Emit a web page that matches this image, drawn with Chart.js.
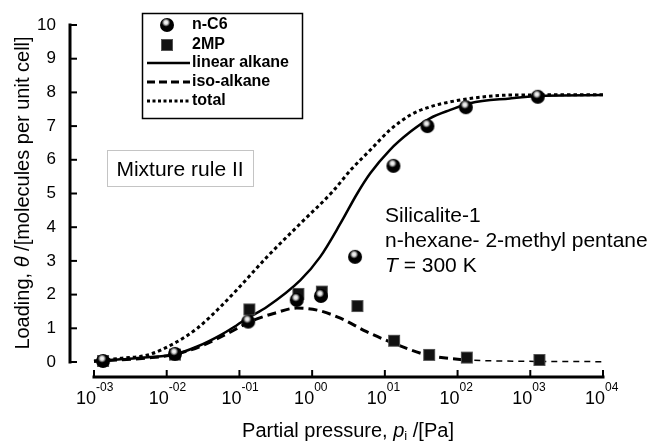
<!DOCTYPE html>
<html>
<head>
<meta charset="utf-8">
<script src="https://cdn.jsdelivr.net/npm/chart.js@4.4.0/dist/chart.umd.min.js"></script>
<style>
    html, body { margin: 0; padding: 0; background: #fff; }
    #box { width: 652px; height: 443px; }
</style>
</head>
<body>
<div id="box"><canvas id="chartCanvas"></canvas></div>
<script>
// Dados (pressão em Pa, carga em moléculas por célula)
const pressaoNC6 = [0.00133, 0.013, 0.132, 0.614, 1.32, 3.89, 13.1, 38.5, 130, 1268];
const cargaNC6 = [0.03, 0.24, 1.20, 1.84, 1.96, 3.12, 5.82, 7.00, 7.56, 7.87];

const pressao2MP = [0.00133, 0.013, 0.137, 0.646, 1.36, 4.19, 13.4, 40.7, 134, 1334];
const carga2MP = [0.03, 0.22, 1.56, 2.02, 2.09, 1.66, 0.63, 0.21, 0.13, 0.06];

const pressaoLinear = [0.001, 0.00234, 0.0055, 0.0126, 0.0263, 0.055, 0.093, 0.129, 0.24, 0.69, 1.29, 2.45, 4.17, 6.3, 11.7, 22.4, 41.7, 79.4, 148, 525, 1585, 10000];
const cargaLinear = [0.02, 0.08, 0.14, 0.22, 0.46, 0.80, 1.10, 1.30, 1.64, 2.43, 3.12, 4.11, 5.00, 5.60, 6.29, 6.83, 7.23, 7.48, 7.68, 7.82, 7.90, 7.92];

const pressaoIso = [0.001, 0.0055, 0.0126, 0.0295, 0.085, 0.141, 0.295, 0.617, 1.17, 2.45, 5.6, 11.7, 38, 120, 400, 10000];
const cargaIso = [0.02, 0.12, 0.22, 0.47, 0.95, 1.20, 1.44, 1.60, 1.54, 1.30, 0.90, 0.60, 0.21, 0.07, 0.03, 0.01];

const pressaoTotal = [0.001, 0.00234, 0.0055, 0.0126, 0.0263, 0.055, 0.093, 0.24, 0.69, 1.9, 3.4, 6.3, 11.7, 22.4, 41.7, 79.4, 148, 525, 10000];
const cargaTotal = [0.03, 0.11, 0.21, 0.55, 1.00, 1.64, 2.15, 3.12, 4.11, 5.05, 5.70, 6.29, 6.88, 7.33, 7.57, 7.72, 7.82, 7.92, 7.93];

const expoentesX = [-3, -2, -1, 0, 1, 2, 3, 4];
const rotulosExpoente = ['-03', '-02', '-01', '00', '01', '02', '03', '04'];
const ticksY = [0, 1, 2, 3, 4, 5, 6, 7, 8, 9, 10];

const fonte = '"Liberation Sans", Arial, sans-serif';

function juntar(xs, ys) {
    return xs.map((x, i) => ({ x: x, y: ys[i] }));
}

// Marcador esférico (n-C6)
function criarEsfera(r) {
    const c = document.createElement('canvas');
    c.width = c.height = 2 * r + 2;
    const g = c.getContext('2d');
    const cx = r + 1, cy = r + 1;
    g.fillStyle = '#000';
    g.beginPath(); g.arc(cx, cy, r, 0, Math.PI * 2); g.fill();
    const grad = g.createRadialGradient(cx - 1, cy - 2.5, 0, cx - 1, cy - 2.5, r * 0.6);
    grad.addColorStop(0, '#fff');
    grad.addColorStop(0.45, 'rgba(255,255,255,0.85)');
    grad.addColorStop(1, 'rgba(255,255,255,0)');
    g.fillStyle = grad;
    g.beginPath(); g.arc(cx, cy, r, 0, Math.PI * 2); g.fill();
    return c;
}

// Marcador quadrado (2MP)
function criarQuadrado(lado) {
    const c = document.createElement('canvas');
    c.width = c.height = lado + 2;
    const g = c.getContext('2d');
    g.fillStyle = '#111';
    g.fillRect(1, 1, lado, lado);
    g.strokeStyle = '#999';
    g.lineWidth = 1;
    g.setLineDash([1, 1]);
    g.strokeRect(1.5, 1.5, lado - 1, lado - 1);
    return c;
}

const esfera = criarEsfera(7);
const quadrado = criarQuadrado(12);

function desenharLinhaLegenda(ctx, y, dash, largura) {
    ctx.save();
    ctx.strokeStyle = '#000';
    ctx.lineWidth = largura;
    ctx.setLineDash(dash);
    ctx.beginPath();
    ctx.moveTo(147, y);
    ctx.lineTo(190, y);
    ctx.stroke();
    ctx.restore();
}

const pluginEixos = {
    id: 'eixos',
    afterDraw(chart) {
        const ctx = chart.ctx;
        const x = chart.scales.x;
        const y = chart.scales.y;
        const area = chart.chartArea;

        ctx.save();
        ctx.fillStyle = '#000';
        ctx.strokeStyle = '#000';

        // eixo Y
        const y0 = y.getPixelForValue(0);
        const y10 = y.getPixelForValue(10);
        ctx.lineWidth = 3;
        ctx.beginPath();
        ctx.moveTo(area.left, y0 + 1.5);
        ctx.lineTo(area.left, y10 - 1.5);
        ctx.stroke();
        ctx.lineWidth = 2;
        ctx.font = '17px ' + fonte;
        ctx.textAlign = 'right';
        ctx.textBaseline = 'middle';
        ticksY.forEach(v => {
            const py = y.getPixelForValue(v);
            ctx.beginPath();
            ctx.moveTo(area.left, py);
            ctx.lineTo(area.left + 7, py);
            ctx.stroke();
            ctx.fillText(String(v), 56, py);
        });

        // eixo X
        const xa = x.getPixelForValue(1e-3);
        const xb = x.getPixelForValue(1e4);
        ctx.lineWidth = 3;
        ctx.beginPath();
        ctx.moveTo(xa - 1.5, area.bottom);
        ctx.lineTo(xb + 1.5, area.bottom);
        ctx.stroke();
        ctx.lineWidth = 2;
        ctx.textBaseline = 'alphabetic';
        expoentesX.forEach((e, i) => {
            const px = x.getPixelForValue(Math.pow(10, e));
            ctx.beginPath();
            ctx.moveTo(px, area.bottom);
            ctx.lineTo(px, area.bottom - 7);
            ctx.stroke();
            ctx.font = '18px ' + fonte;
            ctx.textAlign = 'right';
            ctx.fillText('10', px + 2, 404);
            ctx.font = '12px ' + fonte;
            ctx.textAlign = 'left';
            ctx.fillText(rotulosExpoente[i], px + 2, 391);
        });

        // título do eixo X
        const partes = [
            { t: 'Partial pressure, ', f: '20px ' + fonte, dy: 0 },
            { t: 'p', f: 'italic 20px ' + fonte, dy: 0 },
            { t: 'i', f: '13px ' + fonte, dy: 3 },
            { t: ' /[Pa]', f: '20px ' + fonte, dy: 0 }
        ];
        let total = 0;
        partes.forEach(p => { ctx.font = p.f; total += ctx.measureText(p.t).width; });
        let cx = 348 - total / 2;
        ctx.textAlign = 'left';
        partes.forEach(p => {
            ctx.font = p.f;
            ctx.fillText(p.t, cx, 437 + p.dy);
            cx += ctx.measureText(p.t).width;
        });

        // título do eixo Y
        ctx.save();
        ctx.translate(29, 193);
        ctx.rotate(-Math.PI / 2);
        const partesY = [
            { t: 'Loading, ', f: '20px ' + fonte },
            { t: 'θ', f: 'italic 20px ' + fonte },
            { t: ' /[molecules per unit cell]', f: '20px ' + fonte }
        ];
        total = 0;
        partesY.forEach(p => { ctx.font = p.f; total += ctx.measureText(p.t).width; });
        cx = -total / 2;
        partesY.forEach(p => {
            ctx.font = p.f;
            ctx.fillText(p.t, cx, 0);
            cx += ctx.measureText(p.t).width;
        });
        ctx.restore();

        // legenda
        ctx.lineWidth = 1.5;
        ctx.strokeRect(142.5, 13.5, 160, 105);
        ctx.drawImage(esfera, 167 - esfera.width / 2, 25 - esfera.height / 2);
        ctx.drawImage(quadrado, 167 - quadrado.width / 2, 45 - quadrado.height / 2);
        desenharLinhaLegenda(ctx, 63, [], 2.5);
        desenharLinhaLegenda(ctx, 82, [8, 4], 3);
        desenharLinhaLegenda(ctx, 101, [3, 2.5], 3);
        ctx.font = 'bold 16px ' + fonte;
        ctx.textBaseline = 'middle';
        ctx.fillText('n-C6', 192, 25);
        ctx.fillText('2MP', 192, 45);
        ctx.fillText('linear alkane', 192, 63);
        ctx.fillText('iso-alkane', 192, 82);
        ctx.fillText('total', 192, 101);

        // caixa "Mixture rule II"
        ctx.save();
        ctx.strokeStyle = '#888';
        ctx.lineWidth = 1;
        ctx.setLineDash([1, 1]);
        ctx.strokeRect(107.5, 150.5, 146, 36);
        ctx.restore();
        ctx.font = '21px ' + fonte;
        ctx.textAlign = 'center';
        ctx.textBaseline = 'alphabetic';
        ctx.fillText('Mixture rule II', 180, 176);

        // anotações
        ctx.textAlign = 'left';
        ctx.fillText('Silicalite-1', 385, 222);
        ctx.fillText('n-hexane- 2-methyl pentane', 385, 247);
        ctx.font = 'italic 21px ' + fonte;
        ctx.fillText('T', 385, 272);
        const wT = ctx.measureText('T').width;
        ctx.font = '21px ' + fonte;
        ctx.fillText(' = 300 K', 385 + wT, 272);

        ctx.restore();
    }
};

function renderizarGrafico() {
    const ctx = document.getElementById('chartCanvas');
    new Chart(ctx, {
        type: 'scatter',
        data: {
            datasets: [
                {
                    label: 'n-C6',
                    data: juntar(pressaoNC6, cargaNC6),
                    pointStyle: esfera,
                    pointRadius: 7,
                    order: 1
                },
                {
                    label: '2MP',
                    data: juntar(pressao2MP, carga2MP),
                    pointStyle: quadrado,
                    pointRadius: 6,
                    order: 2
                },
                {
                    label: 'linear alkane',
                    data: juntar(pressaoLinear, cargaLinear),
                    showLine: true,
                    pointRadius: 0,
                    borderColor: '#000',
                    borderWidth: 2.5,
                    cubicInterpolationMode: 'monotone',
                    order: 3
                },
                {
                    label: 'iso-alkane',
                    data: juntar(pressaoIso, cargaIso),
                    showLine: true,
                    pointRadius: 0,
                    borderColor: '#000',
                    borderWidth: 3,
                    borderDash: [9, 5],
                    cubicInterpolationMode: 'monotone',
                    segment: {
                        borderWidth: c => c.p0.parsed.x >= 100 ? 1.5 : 3,
                        borderDash: c => c.p0.parsed.x >= 100 ? [6, 5] : [9, 5]
                    },
                    order: 4
                },
                {
                    label: 'total',
                    data: juntar(pressaoTotal, cargaTotal),
                    showLine: true,
                    pointRadius: 0,
                    borderColor: '#000',
                    borderWidth: 3,
                    borderDash: [3.5, 3],
                    cubicInterpolationMode: 'monotone',
                    order: 5
                }
            ]
        },
        options: {
            responsive: true,
            maintainAspectRatio: false,
            animation: false,
            layout: {
                padding: { left: 70, right: 49, top: 25, bottom: 66 }
            },
            scales: {
                x: {
                    type: 'logarithmic',
                    min: Math.pow(10, -3.33),
                    max: 1e4,
                    display: false
                },
                y: {
                    min: -0.445,
                    max: 10,
                    display: false
                }
            },
            plugins: {
                legend: { display: false },
                tooltip: { enabled: false }
            }
        },
        plugins: [pluginEixos]
    });
}

window.addEventListener('load', renderizarGrafico);
</script>
</body>
</html>
